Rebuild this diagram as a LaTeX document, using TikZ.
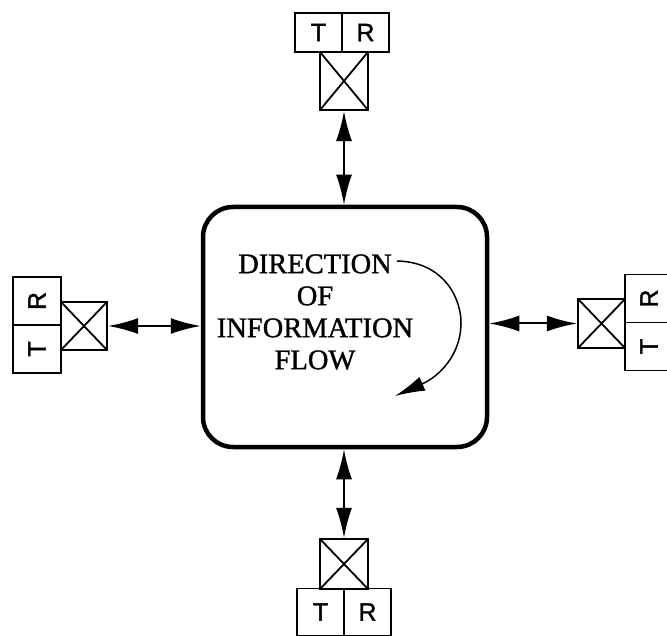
\documentclass[tikz,border=0pt]{standalone}
\usepackage{fontspec}
\setmainfont{Liberation Serif}[FakeBold=1.2]
\newfontfamily\sansf{Liberation Sans}[FakeBold=1.5]
\usetikzlibrary{arrows.meta}
\begin{document}
\begin{tikzpicture}[x=1pt,y=-1pt,
  trbox/.style={draw,line width=1.8pt,minimum width=47pt,minimum height=39pt,inner sep=0pt,font=\sansf\fontsize{25}{25}\selectfont},
  xbox/.style={draw,line width=2.2pt,minimum width=48pt,minimum height=50pt,inner sep=0pt,
    path picture={\draw[line width=1.8pt] (path picture bounding box.north west)--(path picture bounding box.south east)
      (path picture bounding box.south west)--(path picture bounding box.north east);}},
  hubbox/.style={draw,line width=4.5pt,rounded corners=30pt,minimum width=284pt,minimum height=240pt},
  link/.style={line width=2pt,{Latex[length=30pt,width=16pt]}-{Latex[length=30pt,width=16pt]}},
  flow/.style={line width=1.5pt,-{Latex[length=30pt,width=15pt]}}
]
\useasboundingbox (0,0) rectangle (667,636);
% hub
\node[hubbox] (hub) at (345,327) {};
\node[align=center,font=\fontsize{28.5}{32}\selectfont] (txt) at (315,312)
  {DIRECTION\\OF\\INFORMATION\\FLOW};
\coordinate (cs) at (397,261);
\coordinate (cm) at (461,325);
\coordinate (ce) at (395,396);
\draw[line width=1.5pt] (cs) .. controls (445,262) and (462,300) .. (cm);
\draw[flow] (cm) .. controls (460,355) and (440,376) .. (ce);
% top module
\node[trbox] (tT) at (318.5,32.5) {T};
\node[trbox] (tR) at (365.5,32.5) {R};
\node[xbox,minimum height=58pt] (tX) at (344,81) {};
\draw[link] (tX.south) -- (tX.south |- hub.north);
% bottom module
\node[xbox] (bX) at (344,564) {};
\node[trbox,minimum height=47pt] (bT) at (320.5,612) {T};
\node[trbox,minimum height=47pt] (bR) at (367.5,612) {R};
\draw[link] (bX.north |- hub.south) -- (bX.north);
% left module
\node[trbox,minimum width=48pt,minimum height=48pt,rotate=90] (lR) at (37,301) {R};
\node[trbox,minimum width=48pt,minimum height=48pt,rotate=90] (lT) at (37,349) {T};
\node[xbox,minimum width=46pt,minimum height=48pt] (lX) at (84,326) {};
\draw[link] (lX.east) -- (lX.east -| hub.west);
% right module
\node[xbox,minimum width=47pt,minimum height=49pt] (rX) at (601.5,323.5) {};
\node[trbox,minimum width=48pt,minimum height=48pt,rotate=90] (rR) at (649,298.5) {R};
\node[trbox,minimum width=48pt,minimum height=48pt,rotate=90] (rT) at (649,346.5) {T};
\draw[link] (rX.west -| hub.east) -- (rX.west);
\end{tikzpicture}
\end{document}
